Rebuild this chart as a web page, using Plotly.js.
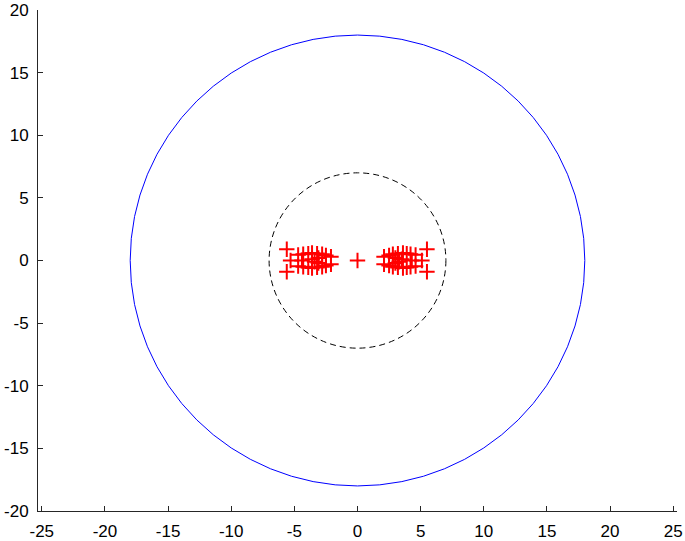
<!DOCTYPE html>
<html>
<head>
<meta charset="utf-8">
<script src="https://cdn.plot.ly/plotly-3.0.1.min.js"></script>
<style>html,body{margin:0;padding:0;background:#fff;}#plot{width:685px;height:541px;}</style>
</head>
<body>
<div id="plot"></div>
<script>
// Root locations (red "+" markers)
var rootsX = [0,
  -5.6, -5.6, -5.3,
  -4.7, -4.7, -4.4, -4.3, -4.3,
  -3.9, -3.9, -3.6, -3.6, -3.6, -3.4,
  -3.2, -3.2, -3.1, -3.1,
  -2.8, -2.8, -2.5, -2.5, -2.1, -2.1,
  5.5, 5.5, 5.1,
  4.6, 4.6, 4.3, 4.2, 4.2,
  3.9, 3.9, 3.6, 3.6, 3.5, 3.3,
  3.2, 3.2, 3.0, 3.0,
  2.8, 2.8, 2.5, 2.5, 2.1, 2.1];
var rootsY = [0,
  0.9, -0.9, 0.0,
  0.45, -0.45, 0.0, 0.5, -0.5,
  0.55, -0.55, 0.6, -0.6, 0.1, -0.1,
  0.55, -0.55, 0.2, -0.2,
  0.5, -0.5, 0.4, -0.4, 0.3, -0.3,
  0.9, -0.9, 0.0,
  0.45, -0.45, 0.0, 0.5, -0.5,
  0.55, -0.55, 0.6, -0.6, 0.1, -0.1,
  0.55, -0.55, 0.2, -0.2,
  0.5, -0.5, 0.4, -0.4, 0.3, -0.3];
// Circle radii: outer (blue solid), inner (black dashed)
var outerRadius = 18;
var innerRadius = 7;
var xTicks = [-25, -20, -15, -10, -5, 0, 5, 10, 15, 20, 25];
var yTicks = [-20, -15, -10, -5, 0, 5, 10, 15, 20];

var trace = {
  x: rootsX, y: rootsY, type: 'scatter', mode: 'markers',
  marker: {symbol: 'cross-thin', size: 11, line: {color: '#ff0000', width: 2}, color: '#ff0000'},
  hoverinfo: 'skip', showlegend: false, cliponaxis: false
};

var axisCommon = {
  showline: true, linecolor: '#262626', linewidth: 1,
  ticks: 'inside', ticklen: 5, tickwidth: 1, tickcolor: '#262626',
  showgrid: false, zeroline: false,
  tickfont: {family: 'Liberation Sans, Arial, sans-serif', size: 17, color: '#000'},
  tickmode: 'array', ticklabeloverflow: 'allow'
};

var layout = {
  width: 685, height: 541,
  margin: {l: 38, r: 7.5, t: 10, b: 30},
  paper_bgcolor: '#fff', plot_bgcolor: '#fff',
  showlegend: false,
  xaxis: Object.assign({}, axisCommon, {range: [-25.3, 25.3], tickvals: xTicks, ticktext: xTicks.map(String), ticklabelstandoff: 5}),
  yaxis: Object.assign({}, axisCommon, {range: [-20.001, 20.001], tickvals: yTicks, ticktext: yTicks.map(String), ticklabelstandoff: 5}),
  shapes: [
    {type: 'circle', xref: 'x', yref: 'y', x0: -outerRadius, x1: outerRadius, y0: -outerRadius, y1: outerRadius,
     line: {color: '#0000ff', width: 1}, layer: 'below'},
    {type: 'circle', xref: 'x', yref: 'y', x0: -innerRadius, x1: innerRadius, y0: -innerRadius, y1: innerRadius,
     line: {color: '#000000', width: 1, dash: '6px,4px'}, layer: 'below'}
  ]
};

Plotly.newPlot('plot', [trace], layout, {displayModeBar: false, staticPlot: true});
</script>
</body>
</html>
